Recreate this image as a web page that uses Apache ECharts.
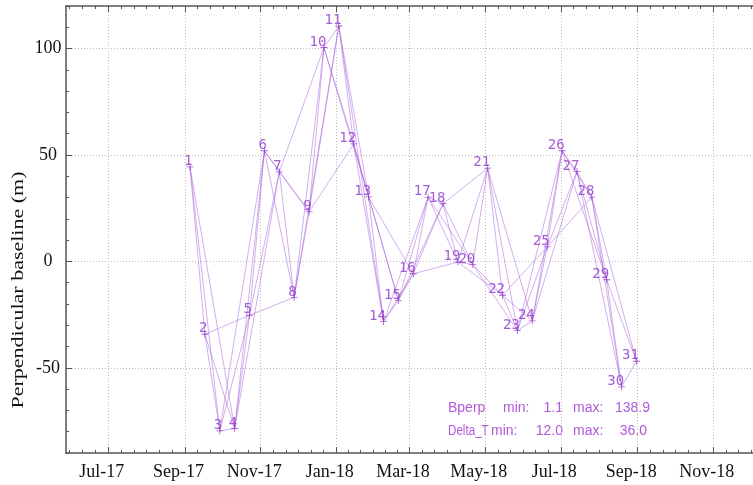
<!DOCTYPE html>
<html><head><meta charset="utf-8">
<script src="https://cdn.jsdelivr.net/npm/echarts@6/dist/echarts.min.js"></script>
<style>html,body{margin:0;padding:0;background:#fff}#c{width:753px;height:485px}</style>
</head><body><div id="c"></div>
<script>
// Acquisition dates (1..31) and perpendicular baselines (m)
const acqDates = ['2017-09-05','2017-09-17','2017-09-29','2017-10-11','2017-10-23','2017-11-04','2017-11-16','2017-11-28','2017-12-10','2017-12-22','2018-01-03','2018-01-15','2018-01-27','2018-02-08','2018-02-20','2018-03-04','2018-03-16','2018-03-28','2018-04-09','2018-04-21','2018-05-03','2018-05-15','2018-05-27','2018-06-08','2018-06-20','2018-07-02','2018-07-14','2018-07-26','2018-08-07','2018-08-19','2018-08-31'];
const bperp = [44.4, -34.2, -79.6, -78.5, -25.3, 52.0, 42.1, -16.9, 23.3, 100.5, 110.6, 55.2, 30.3, -28.3, -18.3, -5.8, 30.2, 27.1, -0.3, -1.5, 43.8, -15.9, -32.5, -27.9, 6.8, 52.0, 42.2, 30.2, -8.6, -58.9, -46.9];
// Network rule: pairs with temporal baseline up to this many days
const maxDeltaTDays = 36;
// Axis ticks
const xTickDates = ['2017-07-01','2017-09-01','2017-11-01','2018-01-01','2018-03-01','2018-05-01','2018-07-01','2018-09-01','2018-11-01','2019-01-01'];
const monthNames = ['Jan','Feb','Mar','Apr','May','Jun','Jul','Aug','Sep','Oct','Nov','Dec'];
const yTickValues = [-50, 0, 50, 100];
const statsRow1 = ['Bperp', 'min:', '1.1', 'max:', '138.9'];
const statsRow2 = ['Delta_T', 'min:', '12.0', 'max:', '36.0'];
const yTitle = 'Perpendicular baseline (m)';

const DAY = 86400000;
const toTs = s => { const p = s.split('-').map(Number); return Date.UTC(p[0], p[1] - 1, p[2]); };
const ts = acqDates.map(toTs);
const xMin = toTs('2017-05-28'), xMax = toTs('2019-01-01');
const xTicks = xTickDates.map(toTs);
// minor ticks: each 2-month span split into 6 parts
const xMinor = [];
for (let k = 0; k + 1 < xTicks.length; k++) {
  const step = (xTicks[k + 1] - xTicks[k]) / 6;
  for (let m = 1; m < 6; m++) xMinor.push(xTicks[k] + m * step);
  if (k === 0) { for (let m = 1; xTicks[0] - m * step > xMin; m++) xMinor.push(xTicks[0] - m * step); }
}

const edges = [];
for (let i = 0; i < ts.length; i++) {
  for (let j = i + 1; j < ts.length; j++) {
    if ((ts[j] - ts[i]) / DAY <= maxDeltaTDays) {
      edges.push({ coords: [[ts[i], bperp[i]], [ts[j], bperp[j]]] });
    }
  }
}

const axisColor = '#555';
const gridLine = { show: true, lineStyle: { color: '#bdbdbd', width: 1, type: [1, 2] } };
const xLabelFmt = v => { const d = new Date(v); return monthNames[d.getUTCMonth()] + '-' + String(d.getUTCFullYear() % 100).padStart(2, '0'); };

function xAxisDef(pos, ticks, len, showLine, labels, split) {
  return {
    type: 'value', min: xMin, max: xMax, position: pos,
    axisLine: { show: showLine, onZero: false, lineStyle: { color: axisColor, width: 1.5 } },
    axisTick: { show: true, inside: true, length: len, customValues: ticks, lineStyle: { color: axisColor, width: 1 } },
    axisLabel: labels ? { customValues: ticks, formatter: xLabelFmt, fontFamily: 'Liberation Serif', fontSize: 18, color: '#111', margin: 10, padding: [0, 13, 0, 0], hideOverlap: false } : { show: false },
    splitLine: split ? gridLine : { show: false }
  };
}

const plusPath = 'path://M-0.12,-1H0.12V-0.12H1V0.12H0.12V1H-0.12V0.12H-1V-0.12H-0.12Z';
const statFont = '14px "Liberation Sans"';
const statColor = '#b05ad8';
function statText(x, y, text, align, sx) {
  return { type: 'text', x: x, y: y, scaleX: sx || 1, style: { text: text, font: statFont, fill: statColor, align: align, verticalAlign: 'middle' } };
}

const option = {
  animation: false,
  grid: { left: 66, top: 6, right: -36, bottom: 32, containLabel: false, outerBoundsMode: 'none' },
  xAxis: [
    xAxisDef('bottom', xTicks, 6, true, true, true),
    xAxisDef('top', xTicks, 6, true, false, false),
    xAxisDef('bottom', xMinor, 3, false, false, false),
    xAxisDef('top', xMinor, 3, false, false, false)
  ],
  yAxis: [
    {
      type: 'value', min: -90, max: 120, interval: 10, position: 'left',
      axisLine: { show: true, onZero: false, lineStyle: { color: axisColor, width: 1.5 } },
      axisTick: { show: true, inside: true, length: 6, customValues: yTickValues, lineStyle: { color: axisColor } },
      axisLabel: { customValues: yTickValues, align: 'center', margin: 18, fontFamily: 'Liberation Serif', fontSize: 18, color: '#111' },
      splitLine: gridLine
    },
    {
      type: 'value', min: -90, max: 120, interval: 10, position: 'left',
      axisLine: { show: false },
      axisTick: { show: true, inside: true, length: 3, lineStyle: { color: axisColor } },
      axisLabel: { show: false },
      splitLine: { show: false }
    }
  ],
  series: [
    {
      type: 'lines', coordinateSystem: 'cartesian2d', xAxisIndex: 0, yAxisIndex: 0,
      data: edges, silent: true, z: 2,
      lineStyle: { color: 'rgba(165,95,220,0.5)', width: 1, opacity: 1 }
    },
    {
      type: 'scatter', xAxisIndex: 0, yAxisIndex: 0, z: 3,
      data: ts.map((t, i) => [t, bperp[i]]),
      symbol: plusPath, symbolSize: 7,
      itemStyle: { color: '#8f33c9' },
      label: {
        show: true, position: [6, 5], align: 'right', verticalAlign: 'bottom',
        formatter: p => String(p.dataIndex + 1),
        fontFamily: 'DejaVu Sans Mono', fontSize: 14, color: '#8f33c9'
      }
    }
  ],
  graphic: [
    { type: 'text', x: 18, y: 290, rotation: Math.PI / 2, scaleY: 0.8,
      style: { text: yTitle, font: '22px "Liberation Serif"', fill: '#111', align: 'center', verticalAlign: 'middle' } },
    statText(448, 408, statsRow1[0], 'left'),
    statText(503, 408, statsRow1[1], 'left'),
    statText(563, 408, statsRow1[2], 'right'),
    statText(573, 408, statsRow1[3], 'left'),
    statText(650, 408, statsRow1[4], 'right'),
    statText(448, 431, statsRow2[0], 'left', 0.83),
    statText(491, 431, statsRow2[1], 'left'),
    statText(563, 431, statsRow2[2], 'right'),
    statText(573, 431, statsRow2[3], 'left'),
    statText(647, 431, statsRow2[4], 'right')
  ]
};

const chart = echarts.init(document.getElementById('c'), null, { renderer: 'canvas' });
chart.setOption(option);
</script>
</body></html>
